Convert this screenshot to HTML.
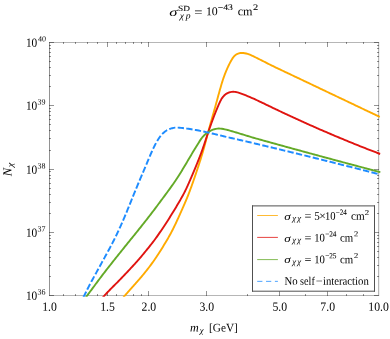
<!DOCTYPE html>
<html><head><meta charset="utf-8"><title>plot</title>
<style>
html,body{margin:0;padding:0;background:#fff;}
svg{display:block;will-change:transform;}
text{font-family:"Liberation Serif",serif;fill:#000;}
.i{font-style:italic;}
</style></head><body>
<svg width="390" height="339" viewBox="0 0 390 339">
<rect width="390" height="339" fill="#fff"/>
<defs><clipPath id="c"><rect x="49" y="42" width="331.7" height="254.7"/></clipPath></defs>
<g fill="none" stroke-width="1">
<path d="M49,42.5H379.6" stroke="#b6b6b6"/><path d="M49,295.5H379.6" stroke="#b6b6b6"/>
<path d="M49.5,42V296" stroke="#929292"/><path d="M378.5,42V296" stroke="#b8b8b8"/><path d="M379.5,42V296" stroke="#f0f0f0"/>
</g><g stroke="#000" stroke-opacity="0.42" stroke-width="1" fill="none">
<path d="M107.5,296V291 M107.5,42V47 M148.5,296V291 M148.5,42V47 M206.5,296V291 M206.5,42V47 M279.5,296V291 M279.5,42V47 M327.5,296V291 M327.5,42V47 M63.5,296V294 M63.5,42V44 M75.5,296V294 M75.5,42V44 M87.5,296V294 M87.5,42V44 M97.5,296V294 M97.5,42V44 M116.5,296V294 M116.5,42V44 M125.5,296V294 M125.5,42V44 M133.5,296V294 M133.5,42V44 M141.5,296V294 M141.5,42V44 M247.5,296V294 M247.5,42V44 M305.5,296V294 M305.5,42V44 M346.5,296V294 M346.5,42V44 M363.5,296V294 M363.5,42V44 M49,295.5H54 M379,295.5H374 M49,276.5H51 M379,276.5H377 M49,265.5H51 M379,265.5H377 M49,257.5H51 M379,257.5H377 M49,251.5H51 M379,251.5H377 M49,246.5H51 M379,246.5H377 M49,242.5H51 M379,242.5H377 M49,238.5H51 M379,238.5H377 M49,235.5H51 M379,235.5H377 M49,232.5H54 M379,232.5H374 M49,213.5H51 M379,213.5H377 M49,202.5H51 M379,202.5H377 M49,194.5H51 M379,194.5H377 M49,188.5H51 M379,188.5H377 M49,183.5H51 M379,183.5H377 M49,178.5H51 M379,178.5H377 M49,175.5H51 M379,175.5H377 M49,171.5H51 M379,171.5H377 M49,169.5H54 M379,169.5H374 M49,150.5H51 M379,150.5H377 M49,138.5H51 M379,138.5H377 M49,130.5H51 M379,130.5H377 M49,124.5H51 M379,124.5H377 M49,119.5H51 M379,119.5H377 M49,115.5H51 M379,115.5H377 M49,111.5H51 M379,111.5H377 M49,108.5H51 M379,108.5H377 M49,105.5H54 M379,105.5H374 M49,86.5H51 M379,86.5H377 M49,75.5H51 M379,75.5H377 M49,67.5H51 M379,67.5H377 M49,61.5H51 M379,61.5H377 M49,56.5H51 M379,56.5H377 M49,52.5H51 M379,52.5H377 M49,48.5H51 M379,48.5H377 M49,45.5H51 M379,45.5H377 M49,42.5H54 M379,42.5H374"/>
</g>
<g clip-path="url(#c)" fill="none" stroke-linejoin="round">
<path d="M123.36,297.32 L124.34,296.18 L125.33,295.05 L126.32,293.93 L127.31,292.80 L128.30,291.68 L129.29,290.55 L130.29,289.43 L131.29,288.31 L132.29,287.20 L133.29,286.08 L134.29,284.96 L135.29,283.84 L136.28,282.72 L137.27,281.59 L138.26,280.47 L139.24,279.33 L140.22,278.20 L141.19,277.05 L142.15,275.91 L143.11,274.75 L144.06,273.59 L145.01,272.43 L145.94,271.26 L146.87,270.08 L147.79,268.90 L148.71,267.71 L149.62,266.52 L150.51,265.32 L151.40,264.11 L152.29,262.90 L153.16,261.68 L154.02,260.46 L154.87,259.23 L155.72,257.99 L156.56,256.75 L157.38,255.50 L158.21,254.24 L159.02,252.98 L159.83,251.72 L160.63,250.46 L161.43,249.19 L162.22,247.91 L163.01,246.64 L163.80,245.36 L164.58,244.08 L165.36,242.80 L166.13,241.51 L166.89,240.23 L167.65,238.93 L168.40,237.64 L169.14,236.33 L169.87,235.02 L170.59,233.71 L171.29,232.39 L171.99,231.06 L172.67,229.73 L173.34,228.39 L174.01,227.04 L174.66,225.70 L175.31,224.34 L175.95,222.99 L176.58,221.63 L177.21,220.27 L177.84,218.90 L178.46,217.54 L179.08,216.17 L179.70,214.81 L180.31,213.44 L180.93,212.07 L181.54,210.70 L182.15,209.33 L182.76,207.96 L183.36,206.59 L183.96,205.21 L184.56,203.84 L185.15,202.46 L185.74,201.08 L186.31,199.70 L186.89,198.31 L187.45,196.92 L188.01,195.53 L188.56,194.14 L189.10,192.74 L189.63,191.34 L190.16,189.93 L190.68,188.53 L191.20,187.12 L191.71,185.71 L192.21,184.30 L192.71,182.88 L193.21,181.47 L193.70,180.05 L194.19,178.63 L194.68,177.21 L195.16,175.79 L195.64,174.37 L196.12,172.95 L196.59,171.53 L197.07,170.11 L197.54,168.68 L198.01,167.26 L198.48,165.83 L198.95,164.41 L199.41,162.98 L199.87,161.56 L200.33,160.13 L200.78,158.70 L201.23,157.27 L201.67,155.83 L202.10,154.40 L202.53,152.96 L202.95,151.52 L203.37,150.08 L203.78,148.64 L204.18,147.19 L204.57,145.75 L204.96,144.30 L205.35,142.85 L205.73,141.40 L206.11,139.95 L206.49,138.50 L206.87,137.05 L207.25,135.60 L207.63,134.15 L208.01,132.70 L208.40,131.25 L208.79,129.80 L209.18,128.35 L209.58,126.90 L209.98,125.46 L210.38,124.01 L210.79,122.57 L211.19,121.13 L211.60,119.68 L212.01,118.24 L212.42,116.80 L212.83,115.35 L213.24,113.91 L213.65,112.47 L214.06,111.02 L214.46,109.58 L214.87,108.14 L215.27,106.69 L215.67,105.25 L216.07,103.80 L216.47,102.35 L216.86,100.91 L217.26,99.46 L217.65,98.01 L218.05,96.57 L218.44,95.12 L218.84,93.67 L219.24,92.22 L219.64,90.78 L220.04,89.34 L220.45,87.89 L220.87,86.45 L221.29,85.01 L221.72,83.58 L222.16,82.15 L222.61,80.72 L223.07,79.30 L223.55,77.88 L224.04,76.47 L224.55,75.06 L225.08,73.66 L225.63,72.28 L226.20,70.90 L226.79,69.53 L227.39,68.17 L228.01,66.82 L228.64,65.48 L229.30,64.14 L229.97,62.82 L230.67,61.50 L231.40,60.19 L232.18,58.89 L233.02,57.64 L233.95,56.47 L234.99,55.43 L236.17,54.54 L237.46,53.84 L238.85,53.34 L240.30,53.04 L241.78,52.93 L243.27,52.99 L244.75,53.20 L246.21,53.52 L247.65,53.93 L249.06,54.42 L250.45,54.96 L251.82,55.56 L253.18,56.18 L254.52,56.82 L255.85,57.48 L257.18,58.15 L258.51,58.82 L259.84,59.50 L261.17,60.17 L262.50,60.85 L263.83,61.52 L265.17,62.20 L266.51,62.88 L267.84,63.55 L269.18,64.23 L270.52,64.90 L271.87,65.56 L273.21,66.22 L274.56,66.88 L275.91,67.53 L277.26,68.18 L278.62,68.83 L279.97,69.47 L281.33,70.12 L282.68,70.76 L284.04,71.40 L285.39,72.04 L286.75,72.68 L288.11,73.32 L289.46,73.96 L290.82,74.61 L292.18,75.25 L293.53,75.89 L294.89,76.53 L296.24,77.18 L297.60,77.82 L298.95,78.46 L300.31,79.11 L301.66,79.75 L303.02,80.40 L304.37,81.04 L305.72,81.68 L307.08,82.33 L308.43,82.97 L309.79,83.62 L311.14,84.26 L312.50,84.91 L313.85,85.55 L315.21,86.19 L316.56,86.84 L317.92,87.48 L319.27,88.13 L320.63,88.77 L321.98,89.41 L323.34,90.06 L324.69,90.70 L326.04,91.35 L327.40,91.99 L328.75,92.63 L330.11,93.28 L331.46,93.92 L332.82,94.57 L334.17,95.21 L335.53,95.86 L336.88,96.50 L338.24,97.14 L339.59,97.79 L340.95,98.43 L342.30,99.08 L343.66,99.72 L345.01,100.36 L346.36,101.01 L347.72,101.65 L349.07,102.30 L350.43,102.94 L351.78,103.59 L353.14,104.23 L354.49,104.87 L355.85,105.52 L357.20,106.16 L358.55,106.81 L359.91,107.45 L361.26,108.09 L362.61,108.74 L363.96,109.38 L365.31,110.02 L366.66,110.66 L368.00,111.30 L369.34,111.94 L370.68,112.57 L372.01,113.20 L373.33,113.83 L374.64,114.46 L375.95,115.08 L377.24,115.69 L378.52,116.31 L379.80,116.91" stroke="#FFAA00" stroke-width="1.9"/>
<path d="M102.84,297.43 L103.83,296.30 L104.83,295.18 L105.83,294.08 L106.85,292.98 L107.88,291.89 L108.92,290.81 L109.96,289.73 L111.01,288.67 L112.07,287.60 L113.13,286.54 L114.19,285.48 L115.25,284.42 L116.30,283.36 L117.36,282.30 L118.41,281.23 L119.46,280.16 L120.51,279.08 L121.55,278.01 L122.59,276.92 L123.62,275.84 L124.65,274.75 L125.68,273.66 L126.71,272.57 L127.74,271.48 L128.76,270.38 L129.79,269.29 L130.81,268.19 L131.83,267.09 L132.85,266.00 L133.87,264.89 L134.88,263.79 L135.89,262.68 L136.89,261.57 L137.89,260.45 L138.87,259.32 L139.85,258.19 L140.82,257.05 L141.78,255.90 L142.74,254.75 L143.70,253.59 L144.65,252.43 L145.60,251.27 L146.55,250.11 L147.49,248.94 L148.43,247.78 L149.37,246.61 L150.30,245.43 L151.23,244.26 L152.16,243.08 L153.07,241.90 L153.98,240.70 L154.87,239.50 L155.76,238.29 L156.63,237.08 L157.50,235.86 L158.36,234.63 L159.21,233.40 L160.06,232.16 L160.91,230.93 L161.75,229.69 L162.58,228.44 L163.42,227.20 L164.24,225.95 L165.07,224.69 L165.89,223.44 L166.71,222.18 L167.52,220.92 L168.33,219.66 L169.13,218.39 L169.93,217.13 L170.73,215.85 L171.52,214.58 L172.31,213.31 L173.10,212.03 L173.88,210.75 L174.66,209.47 L175.44,208.18 L176.21,206.90 L176.98,205.61 L177.74,204.32 L178.51,203.03 L179.26,201.74 L180.02,200.44 L180.76,199.15 L181.50,197.84 L182.23,196.54 L182.95,195.23 L183.66,193.90 L184.34,192.58 L185.02,191.24 L185.67,189.89 L186.32,188.54 L186.96,187.19 L187.58,185.82 L188.20,184.46 L188.81,183.09 L189.42,181.72 L190.02,180.34 L190.61,178.97 L191.21,177.59 L191.79,176.21 L192.38,174.83 L192.96,173.44 L193.54,172.06 L194.12,170.68 L194.69,169.29 L195.27,167.90 L195.84,166.52 L196.41,165.13 L196.98,163.74 L197.54,162.35 L198.10,160.96 L198.65,159.57 L199.20,158.17 L199.75,156.77 L200.28,155.37 L200.81,153.97 L201.34,152.57 L201.85,151.16 L202.36,149.75 L202.86,148.33 L203.35,146.92 L203.84,145.50 L204.32,144.08 L204.79,142.66 L205.26,141.23 L205.73,139.81 L206.20,138.39 L206.67,136.96 L207.13,135.54 L207.61,134.12 L208.08,132.69 L208.57,131.27 L209.05,129.86 L209.54,128.44 L210.04,127.02 L210.54,125.61 L211.05,124.20 L211.56,122.79 L212.07,121.38 L212.59,119.97 L213.11,118.57 L213.64,117.17 L214.17,115.77 L214.71,114.37 L215.26,112.98 L215.82,111.60 L216.39,110.22 L216.96,108.85 L217.53,107.47 L218.11,106.10 L218.69,104.74 L219.29,103.37 L219.91,102.01 L220.57,100.67 L221.29,99.36 L222.08,98.10 L222.96,96.89 L223.94,95.76 L225.02,94.73 L226.20,93.83 L227.48,93.09 L228.84,92.53 L230.27,92.14 L231.74,91.88 L233.23,91.78 L234.71,91.84 L236.19,92.06 L237.64,92.39 L239.08,92.82 L240.49,93.30 L241.89,93.83 L243.28,94.37 L244.66,94.92 L246.04,95.47 L247.41,96.03 L248.79,96.60 L250.16,97.19 L251.53,97.78 L252.90,98.38 L254.26,98.99 L255.63,99.62 L256.99,100.25 L258.34,100.88 L259.70,101.52 L261.05,102.17 L262.40,102.82 L263.76,103.47 L265.11,104.12 L266.46,104.77 L267.81,105.43 L269.16,106.08 L270.51,106.73 L271.86,107.38 L273.21,108.03 L274.56,108.68 L275.92,109.33 L277.27,109.97 L278.63,110.62 L279.98,111.26 L281.34,111.90 L282.70,112.54 L284.05,113.18 L285.41,113.81 L286.77,114.45 L288.13,115.08 L289.49,115.71 L290.85,116.34 L292.21,116.97 L293.58,117.60 L294.94,118.23 L296.30,118.85 L297.67,119.48 L299.03,120.10 L300.40,120.72 L301.76,121.34 L303.13,121.96 L304.50,122.57 L305.87,123.19 L307.23,123.80 L308.60,124.41 L309.97,125.02 L311.34,125.63 L312.72,126.24 L314.09,126.85 L315.46,127.45 L316.83,128.05 L318.21,128.66 L319.58,129.26 L320.96,129.85 L322.33,130.45 L323.71,131.05 L325.09,131.64 L326.47,132.24 L327.84,132.83 L329.22,133.42 L330.60,134.00 L331.98,134.59 L333.36,135.18 L334.75,135.76 L336.13,136.34 L337.51,136.92 L338.89,137.50 L340.28,138.08 L341.66,138.66 L343.05,139.23 L344.44,139.80 L345.82,140.38 L347.21,140.95 L348.60,141.51 L349.99,142.08 L351.38,142.65 L352.77,143.21 L354.16,143.77 L355.55,144.33 L356.94,144.89 L358.33,145.45 L359.72,146.01 L361.11,146.56 L362.50,147.11 L363.89,147.66 L365.28,148.21 L366.67,148.76 L368.05,149.30 L369.43,149.84 L370.81,150.38 L372.18,150.91 L373.54,151.44 L374.89,151.96 L376.24,152.48 L377.57,153.00 L378.90,153.50 L380.21,154.01" stroke="#E01410" stroke-width="1.9"/>
<path d="M85.87,297.27 L86.77,296.08 L87.67,294.88 L88.57,293.68 L89.47,292.47 L90.36,291.27 L91.26,290.07 L92.15,288.86 L93.04,287.66 L93.94,286.45 L94.83,285.25 L95.72,284.04 L96.62,282.84 L97.51,281.63 L98.41,280.43 L99.30,279.23 L100.21,278.03 L101.11,276.83 L102.01,275.64 L102.92,274.44 L103.83,273.25 L104.75,272.06 L105.66,270.88 L106.58,269.69 L107.50,268.51 L108.43,267.33 L109.35,266.14 L110.28,264.97 L111.21,263.79 L112.14,262.61 L113.07,261.44 L114.01,260.26 L114.94,259.09 L115.87,257.92 L116.81,256.74 L117.75,255.57 L118.68,254.40 L119.62,253.23 L120.56,252.06 L121.50,250.89 L122.44,249.72 L123.38,248.55 L124.32,247.38 L125.26,246.21 L126.20,245.05 L127.15,243.88 L128.09,242.71 L129.03,241.55 L129.98,240.38 L130.92,239.22 L131.87,238.05 L132.81,236.89 L133.75,235.72 L134.70,234.55 L135.64,233.39 L136.58,232.22 L137.52,231.05 L138.46,229.88 L139.40,228.71 L140.34,227.54 L141.27,226.37 L142.21,225.19 L143.14,224.02 L144.07,222.84 L145.00,221.66 L145.92,220.48 L146.85,219.30 L147.77,218.12 L148.69,216.94 L149.61,215.75 L150.52,214.56 L151.44,213.37 L152.35,212.18 L153.26,210.99 L154.17,209.80 L155.07,208.60 L155.97,207.40 L156.88,206.20 L157.77,205.00 L158.67,203.80 L159.57,202.60 L160.46,201.39 L161.36,200.19 L162.25,198.98 L163.14,197.78 L164.03,196.57 L164.93,195.36 L165.82,194.16 L166.71,192.95 L167.59,191.74 L168.48,190.53 L169.36,189.32 L170.24,188.10 L171.12,186.89 L171.99,185.67 L172.86,184.44 L173.72,183.21 L174.57,181.98 L175.41,180.74 L176.24,179.50 L177.07,178.25 L177.89,176.99 L178.70,175.73 L179.50,174.47 L180.30,173.20 L181.09,171.92 L181.87,170.64 L182.65,169.36 L183.43,168.08 L184.20,166.80 L184.97,165.51 L185.74,164.22 L186.51,162.93 L187.27,161.64 L188.03,160.35 L188.80,159.05 L189.56,157.76 L190.32,156.47 L191.08,155.18 L191.84,153.89 L192.61,152.60 L193.38,151.31 L194.15,150.03 L194.93,148.75 L195.71,147.48 L196.50,146.21 L197.28,144.94 L198.07,143.67 L198.85,142.40 L199.65,141.13 L200.47,139.89 L201.33,138.67 L202.24,137.48 L203.21,136.34 L204.25,135.26 L205.36,134.27 L206.53,133.36 L207.77,132.50 L209.03,131.69 L210.32,130.93 L211.65,130.24 L213.02,129.66 L214.44,129.20 L215.89,128.88 L217.37,128.67 L218.86,128.57 L220.35,128.59 L221.84,128.74 L223.31,128.99 L224.77,129.31 L226.23,129.67 L227.67,130.04 L229.11,130.43 L230.55,130.82 L231.98,131.23 L233.41,131.65 L234.84,132.07 L236.27,132.50 L237.70,132.94 L239.13,133.38 L240.56,133.82 L241.99,134.26 L243.43,134.71 L244.86,135.15 L246.29,135.59 L247.73,136.03 L249.16,136.46 L250.60,136.89 L252.04,137.31 L253.48,137.73 L254.92,138.14 L256.36,138.55 L257.80,138.96 L259.25,139.37 L260.69,139.77 L262.14,140.18 L263.58,140.58 L265.03,140.98 L266.47,141.38 L267.92,141.78 L269.37,142.18 L270.81,142.58 L272.26,142.98 L273.70,143.38 L275.15,143.78 L276.59,144.18 L278.04,144.58 L279.49,144.98 L280.93,145.38 L282.38,145.78 L283.82,146.17 L285.27,146.57 L286.72,146.97 L288.16,147.37 L289.61,147.76 L291.06,148.16 L292.50,148.56 L293.95,148.96 L295.40,149.35 L296.84,149.75 L298.29,150.15 L299.74,150.54 L301.18,150.94 L302.63,151.33 L304.08,151.73 L305.52,152.12 L306.97,152.52 L308.42,152.91 L309.87,153.31 L311.31,153.70 L312.76,154.09 L314.21,154.49 L315.66,154.88 L317.10,155.27 L318.55,155.66 L320.00,156.06 L321.45,156.45 L322.89,156.84 L324.34,157.23 L325.79,157.62 L327.24,158.01 L328.69,158.40 L330.14,158.79 L331.58,159.18 L333.03,159.57 L334.48,159.96 L335.93,160.35 L337.38,160.74 L338.83,161.13 L340.28,161.52 L341.72,161.91 L343.17,162.30 L344.62,162.68 L346.07,163.07 L347.52,163.46 L348.97,163.85 L350.42,164.23 L351.87,164.62 L353.32,165.00 L354.77,165.39 L356.22,165.78 L357.66,166.16 L359.11,166.55 L360.56,166.93 L362.01,167.32 L363.45,167.70 L364.90,168.08 L366.34,168.47 L367.78,168.85 L369.22,169.23 L370.65,169.61 L372.08,169.98 L373.50,170.36 L374.91,170.73 L376.32,171.10 L377.71,171.47 L379.10,171.84 L380.48,172.20" stroke="#64AA28" stroke-width="1.9"/>
<path d="M83.42,297.36 L84.06,296.01 L84.71,294.65 L85.36,293.31 L86.02,291.96 L86.69,290.62 L87.37,289.28 L88.05,287.95 L88.74,286.61 L89.43,285.29 L90.13,283.96 L90.84,282.64 L91.54,281.31 L92.26,279.99 L92.97,278.68 L93.69,277.36 L94.42,276.04 L95.14,274.73 L95.86,273.41 L96.59,272.10 L97.31,270.78 L98.04,269.47 L98.76,268.15 L99.49,266.84 L100.21,265.53 L100.94,264.21 L101.67,262.90 L102.39,261.59 L103.12,260.27 L103.84,258.96 L104.57,257.64 L105.29,256.33 L106.01,255.01 L106.73,253.70 L107.45,252.38 L108.16,251.06 L108.88,249.74 L109.58,248.42 L110.29,247.10 L110.99,245.77 L111.68,244.44 L112.37,243.11 L113.06,241.78 L113.74,240.44 L114.41,239.10 L115.08,237.76 L115.74,236.41 L116.40,235.07 L117.05,233.72 L117.69,232.36 L118.33,231.01 L118.96,229.65 L119.59,228.28 L120.22,226.92 L120.83,225.55 L121.45,224.18 L122.05,222.81 L122.65,221.44 L123.25,220.06 L123.84,218.68 L124.43,217.30 L125.01,215.92 L125.59,214.54 L126.17,213.15 L126.74,211.77 L127.31,210.38 L127.88,208.99 L128.45,207.60 L129.01,206.21 L129.57,204.82 L130.14,203.43 L130.70,202.04 L131.26,200.65 L131.82,199.26 L132.39,197.87 L132.95,196.48 L133.51,195.09 L134.08,193.70 L134.64,192.31 L135.21,190.92 L135.78,189.54 L136.36,188.15 L136.93,186.77 L137.51,185.38 L138.09,184.00 L138.67,182.61 L139.25,181.23 L139.84,179.85 L140.42,178.47 L141.01,177.09 L141.60,175.71 L142.19,174.33 L142.77,172.95 L143.36,171.57 L143.94,170.19 L144.53,168.81 L145.11,167.42 L145.69,166.04 L146.27,164.66 L146.85,163.27 L147.42,161.89 L148.00,160.51 L148.58,159.12 L149.16,157.74 L149.75,156.36 L150.34,154.99 L150.94,153.61 L151.55,152.24 L152.16,150.88 L152.78,149.52 L153.42,148.17 L154.07,146.82 L154.73,145.49 L155.42,144.17 L156.14,142.86 L156.88,141.57 L157.64,140.29 L158.44,139.02 L159.26,137.77 L160.13,136.54 L161.04,135.36 L162.02,134.23 L163.07,133.17 L164.19,132.18 L165.38,131.28 L166.64,130.47 L167.95,129.76 L169.32,129.15 L170.72,128.62 L172.16,128.19 L173.62,127.86 L175.09,127.65 L176.58,127.58 L178.07,127.63 L179.56,127.74 L181.05,127.89 L182.53,128.06 L184.01,128.23 L185.49,128.42 L186.97,128.63 L188.44,128.84 L189.92,129.06 L191.40,129.29 L192.87,129.53 L194.35,129.78 L195.82,130.04 L197.30,130.30 L198.77,130.58 L200.24,130.87 L201.71,131.16 L203.18,131.47 L204.65,131.78 L206.11,132.10 L207.57,132.42 L209.04,132.75 L210.50,133.09 L211.96,133.44 L213.41,133.78 L214.87,134.13 L216.33,134.48 L217.79,134.84 L219.24,135.19 L220.70,135.54 L222.16,135.89 L223.62,136.23 L225.08,136.58 L226.54,136.92 L228.00,137.26 L229.46,137.59 L230.93,137.93 L232.39,138.26 L233.85,138.59 L235.31,138.93 L236.78,139.26 L238.24,139.60 L239.70,139.93 L241.16,140.27 L242.62,140.61 L244.08,140.95 L245.55,141.29 L247.01,141.63 L248.47,141.97 L249.93,142.31 L251.39,142.66 L252.85,143.00 L254.31,143.35 L255.77,143.69 L257.23,144.04 L258.68,144.38 L260.14,144.73 L261.60,145.08 L263.06,145.43 L264.52,145.77 L265.98,146.12 L267.44,146.47 L268.90,146.82 L270.36,147.17 L271.82,147.52 L273.27,147.87 L274.73,148.22 L276.19,148.57 L277.65,148.92 L279.11,149.27 L280.57,149.62 L282.02,149.98 L283.48,150.33 L284.94,150.68 L286.40,151.04 L287.86,151.39 L289.31,151.74 L290.77,152.10 L292.23,152.45 L293.68,152.81 L295.14,153.17 L296.60,153.52 L298.06,153.88 L299.51,154.23 L300.97,154.59 L302.43,154.95 L303.88,155.31 L305.34,155.66 L306.80,156.02 L308.25,156.38 L309.71,156.74 L311.17,157.10 L312.62,157.46 L314.08,157.82 L315.54,158.18 L316.99,158.54 L318.45,158.90 L319.90,159.26 L321.36,159.62 L322.81,159.98 L324.27,160.35 L325.73,160.71 L327.18,161.07 L328.64,161.43 L330.09,161.80 L331.55,162.16 L333.00,162.53 L334.46,162.89 L335.91,163.26 L337.37,163.62 L338.82,163.99 L340.28,164.36 L341.73,164.72 L343.18,165.09 L344.64,165.46 L346.09,165.83 L347.55,166.19 L349.00,166.56 L350.45,166.93 L351.91,167.30 L353.36,167.67 L354.82,168.04 L356.27,168.41 L357.72,168.78 L359.18,169.16 L360.63,169.53 L362.08,169.90 L363.53,170.27 L364.99,170.64 L366.44,171.02 L367.89,171.39 L369.34,171.76 L370.79,172.13 L372.24,172.51 L373.69,172.88 L375.13,173.25 L376.58,173.63 L378.02,174.00 L379.47,174.37" stroke="#1E8CFF" stroke-width="1.95" stroke-dasharray="6.3 2.35"/>
</g>
<text transform="translate(42.21,310.7) scale(0.94,1) rotate(0.03)" font-size="12.5">1.0</text>
<text transform="translate(100.21,310.7) scale(0.94,1) rotate(0.03)" font-size="12.5">1.5</text>
<text transform="translate(141.51,310.7) scale(0.94,1) rotate(0.03)" font-size="12.5">2.0</text>
<text transform="translate(199.45,310.7) scale(0.94,1) rotate(0.03)" font-size="12.5">3.0</text>
<text transform="translate(272.39,310.7) scale(0.94,1) rotate(0.03)" font-size="12.5">5.0</text>
<text transform="translate(320.33,310.7) scale(0.94,1) rotate(0.03)" font-size="12.5">7.0</text>
<text transform="translate(368.28,310.7) scale(0.94,1) rotate(0.03)" font-size="12.5">10.0</text>
<text transform="translate(25.88,299.70) scale(0.906,1) rotate(0.03)" font-size="12.5">10</text>
<text transform="translate(37.62,294.55) rotate(0.03)" font-size="8">36</text>
<text transform="translate(25.88,236.70) scale(0.906,1) rotate(0.03)" font-size="12.5">10</text>
<text transform="translate(37.62,231.55) rotate(0.03)" font-size="8">37</text>
<text transform="translate(25.88,173.70) scale(0.906,1) rotate(0.03)" font-size="12.5">10</text>
<text transform="translate(37.62,168.55) rotate(0.03)" font-size="8">38</text>
<text transform="translate(25.88,109.70) scale(0.906,1) rotate(0.03)" font-size="12.5">10</text>
<text transform="translate(37.62,104.55) rotate(0.03)" font-size="8">39</text>
<text transform="translate(25.88,46.70) scale(0.906,1) rotate(0.03)" font-size="12.5">10</text>
<text transform="translate(37.88,41.55) rotate(0.03)" font-size="8">40</text>
<g transform="translate(11.6,176.35) rotate(-90.03)"><text x="0.12" y="0" font-size="12.5" class="i">N</text><text transform="translate(9.05,1.3) scale(1.2,1)" font-size="8.5" class="i">χ</text></g>
<rect x="252.5" y="205.9" width="122" height="85.3" fill="#fff"/><path d="M252.5,205.4V291.7M374.5,205.4V291.7M252,205.9H375M252,291.2H375" fill="none" stroke="#505050" stroke-width="1"/>
<line x1="257.2" x2="277.9" y1="215.5" y2="215.5" stroke="#FFAA00" stroke-width="0.8"/>
<line x1="257.2" x2="277.9" y1="237.4" y2="237.4" stroke="#E01410" stroke-width="0.8"/>
<line x1="257.2" x2="277.9" y1="259.6" y2="259.6" stroke="#64AA28" stroke-width="0.8"/>
<line x1="257.2" x2="277.9" y1="281.35" y2="281.35" stroke="#1E8CFF" stroke-width="0.8" stroke-dasharray="5.2 3.65"/>
<text transform="translate(169.28,15.60) scale(1.379,1) rotate(0.03)" font-size="12" class="i">σ</text>
<text transform="translate(178.12,10.65) scale(1.163,1) rotate(0.03)" font-size="8" stroke="#000" stroke-width="0.08">SD</text>
<text transform="translate(179.82,18.60) scale(1.087,1) rotate(0.03)" font-size="9" class="i">χ</text>
<text transform="translate(185.64,18.60) scale(1.074,1) rotate(0.03)" font-size="9" class="i">p</text>
<text transform="translate(194.24,15.60) scale(1.218,1) rotate(0.03)" font-size="12">=</text>
<text transform="translate(205.91,15.30) scale(0.990,1) rotate(0.03)" font-size="12">10</text>
<text transform="translate(217.77,10.40) scale(1.141,1) rotate(0.03)" font-size="8.5" stroke="#000" stroke-width="0.08">−43</text>
<text transform="translate(237.69,15.30) scale(1.014,1) rotate(0.03)" font-size="12">cm</text>
<text transform="translate(253.04,10.40) scale(1.215,1) rotate(0.03)" font-size="8.5" stroke="#000" stroke-width="0.08">2</text>
<text transform="translate(284.35,219.80) scale(1.191,1) rotate(0.03)" font-size="11" class="i">σ</text>
<text transform="translate(292.34,221.10) scale(1.022,1) rotate(0.03)" font-size="8.5" class="i">χ</text>
<text transform="translate(297.34,221.10) scale(1.022,1) rotate(0.03)" font-size="8.5" class="i">χ</text>
<text transform="translate(304.53,219.80) scale(1.067,1) rotate(0.03)" font-size="11.5">=</text>
<text transform="translate(314.29,219.80) scale(0.973,1) rotate(0.03)" font-size="11.5">5</text>
<text transform="translate(319.30,219.80) scale(1.000,1) rotate(0.03)" font-size="11.5">×</text>
<text transform="translate(324.98,219.80) scale(0.920,1) rotate(0.03)" font-size="11.5">10</text>
<text transform="translate(335.86,214.70) scale(0.903,1) rotate(0.03)" font-size="7.8" stroke="#000" stroke-width="0.08">−24</text>
<text transform="translate(351.01,219.80) scale(0.972,1) rotate(0.03)" font-size="11.5">cm</text>
<text transform="translate(364.66,214.60) scale(1.167,1) rotate(0.03)" font-size="7.5" stroke="#000" stroke-width="0.08">2</text>
<text transform="translate(284.35,241.50) scale(1.191,1) rotate(0.03)" font-size="11" class="i">σ</text>
<text transform="translate(292.34,242.80) scale(1.022,1) rotate(0.03)" font-size="8.5" class="i">χ</text>
<text transform="translate(297.34,242.80) scale(1.022,1) rotate(0.03)" font-size="8.5" class="i">χ</text>
<text transform="translate(304.53,241.50) scale(1.067,1) rotate(0.03)" font-size="11.5">=</text>
<text transform="translate(314.27,241.50) scale(0.930,1) rotate(0.03)" font-size="11.5">10</text>
<text transform="translate(325.15,236.40) scale(0.920,1) rotate(0.03)" font-size="7.8" stroke="#000" stroke-width="0.08">−24</text>
<text transform="translate(340.03,241.50) scale(0.942,1) rotate(0.03)" font-size="11.5">cm</text>
<text transform="translate(353.97,236.30) scale(1.133,1) rotate(0.03)" font-size="7.5" stroke="#000" stroke-width="0.08">2</text>
<text transform="translate(284.35,263.30) scale(1.191,1) rotate(0.03)" font-size="11" class="i">σ</text>
<text transform="translate(292.34,264.60) scale(1.022,1) rotate(0.03)" font-size="8.5" class="i">χ</text>
<text transform="translate(297.34,264.60) scale(1.022,1) rotate(0.03)" font-size="8.5" class="i">χ</text>
<text transform="translate(304.53,263.30) scale(1.067,1) rotate(0.03)" font-size="11.5">=</text>
<text transform="translate(314.27,263.30) scale(0.930,1) rotate(0.03)" font-size="11.5">10</text>
<text transform="translate(325.15,258.20) scale(0.930,1) rotate(0.03)" font-size="7.8" stroke="#000" stroke-width="0.08">−25</text>
<text transform="translate(340.03,263.30) scale(0.942,1) rotate(0.03)" font-size="11.5">cm</text>
<text transform="translate(353.97,258.10) scale(1.133,1) rotate(0.03)" font-size="7.5" stroke="#000" stroke-width="0.08">2</text>
<text transform="translate(284.55,284.80) scale(0.936,1) rotate(0.03)" font-size="11.5">No</text>
<text transform="translate(300.06,284.80) scale(0.887,1) rotate(0.03)" font-size="11.5">self</text>
<text transform="translate(315.63,284.80) scale(1.067,1) rotate(0.03)" font-size="11.5">−</text>
<text transform="translate(322.97,284.80) scale(0.931,1) rotate(0.03)" font-size="11.5">interaction</text>
<text transform="translate(190.10,331.40) scale(1.010,1) rotate(0.03)" font-size="12" class="i">m</text>
<text transform="translate(199.64,333.30) scale(1.022,1) rotate(0.03)" font-size="8.5" class="i">χ</text>
<text transform="translate(209.06,331.60) scale(0.964,1) rotate(0.03)" font-size="11.7">[GeV]</text>
</svg></body></html>
